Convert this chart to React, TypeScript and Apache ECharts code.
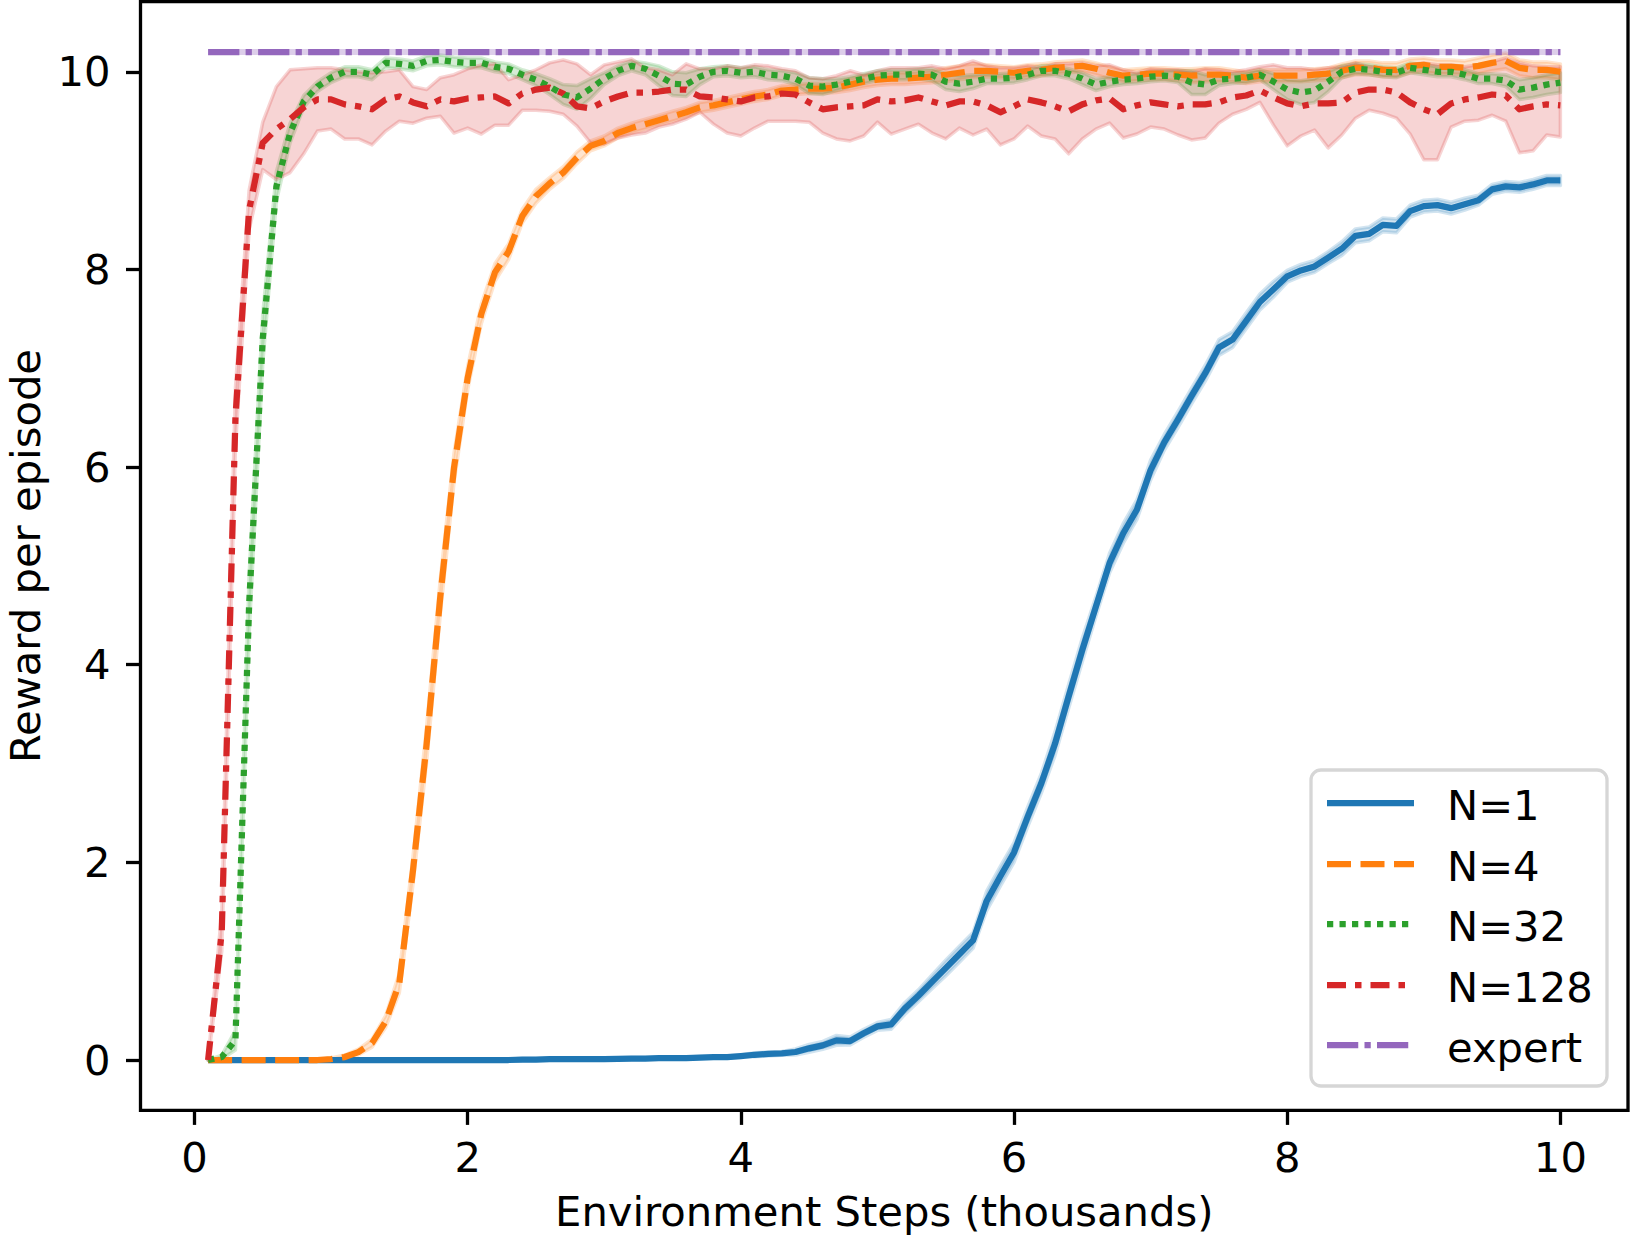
import React, { useEffect, useRef } from "react";
import * as echarts from "echarts";

// ---------------- data ----------------
const STEPS = [
  0.1, 0.2, 0.3, 0.4, 0.5, 0.6, 0.7, 0.8, 0.9, 1.0,
  1.1, 1.2, 1.3, 1.4, 1.5, 1.6, 1.7, 1.8, 1.9, 2.0,
  2.1, 2.2, 2.3, 2.4, 2.5, 2.6, 2.7, 2.8, 2.9, 3.0,
  3.1, 3.2, 3.3, 3.4, 3.5, 3.6, 3.7, 3.8, 3.9, 4.0,
  4.1, 4.2, 4.3, 4.4, 4.5, 4.6, 4.7, 4.8, 4.9, 5.0,
  5.1, 5.2, 5.3, 5.4, 5.5, 5.6, 5.7, 5.8, 5.9, 6.0,
  6.1, 6.2, 6.3, 6.4, 6.5, 6.6, 6.7, 6.8, 6.9, 7.0,
  7.1, 7.2, 7.3, 7.4, 7.5, 7.6, 7.7, 7.8, 7.9, 8.0,
  8.1, 8.2, 8.3, 8.4, 8.5, 8.6, 8.7, 8.8, 8.9, 9.0,
  9.1, 9.2, 9.3, 9.4, 9.5, 9.6, 9.7, 9.8, 9.9, 10.0,
];

const N1 = [
  0, 0, 0, 0, 0, 0, 0, 0, 0, 0,
  0, 0, 0, 0, 0, 0, 0, 0, 0, 0,
  0, 0, 0, 0.005, 0.005, 0.008, 0.008, 0.01, 0.01, 0.01,
  0.012, 0.015, 0.015, 0.018, 0.02, 0.02, 0.025, 0.028, 0.03, 0.04,
  0.053, 0.061, 0.067, 0.081, 0.118, 0.148, 0.199, 0.192, 0.27, 0.34,
  0.36, 0.52, 0.65, 0.79, 0.93, 1.07, 1.21, 1.61, 1.86, 2.1,
  2.46, 2.8, 3.2, 3.68, 4.15, 4.59, 5.03, 5.33, 5.57, 5.97,
  6.25, 6.48, 6.72, 6.95, 7.21, 7.29, 7.48, 7.67, 7.8, 7.93,
  7.99, 8.03, 8.12, 8.21, 8.34, 8.36, 8.45, 8.44, 8.59, 8.64,
  8.65, 8.62, 8.66, 8.7, 8.81, 8.84, 8.83, 8.86, 8.9, 8.9,
];
const N1_SPREAD = [
  0.005, 0.005, 0.005, 0.005, 0.005, 0.005, 0.005, 0.005, 0.005, 0.005,
  0.005, 0.005, 0.005, 0.005, 0.005, 0.005, 0.005, 0.005, 0.005, 0.005,
  0.01, 0.01, 0.01, 0.01, 0.01, 0.01, 0.01, 0.01, 0.01, 0.01,
  0.01, 0.01, 0.01, 0.01, 0.01, 0.01, 0.01, 0.01, 0.01, 0.01,
  0.02, 0.02, 0.02, 0.03, 0.04, 0.04, 0.05, 0.04, 0.04, 0.04,
  0.05, 0.06, 0.06, 0.07, 0.08, 0.08, 0.08, 0.1, 0.1, 0.1,
  0.1, 0.1, 0.12, 0.12, 0.12, 0.1, 0.1, 0.1, 0.1, 0.1,
  0.08, 0.08, 0.08, 0.08, 0.08, 0.08, 0.08, 0.08, 0.08, 0.06,
  0.06, 0.06, 0.06, 0.07, 0.07, 0.07, 0.07, 0.07, 0.06, 0.06,
  0.06, 0.06, 0.06, 0.05, 0.05, 0.05, 0.05, 0.05, 0.05, 0.05,
];

const N4 = [
  0, 0, 0, 0, 0, 0, 0, 0, 0, 0.01,
  0.03, 0.08, 0.17, 0.39, 0.78, 1.92, 3.2, 4.69, 5.99, 6.9,
  7.55, 7.97, 8.18, 8.54, 8.74, 8.87, 8.98, 9.13, 9.25, 9.3,
  9.38, 9.43, 9.47, 9.51, 9.55, 9.59, 9.64, 9.66, 9.69, 9.72,
  9.75, 9.77, 9.81, 9.82, 9.83, 9.83, 9.84, 9.87, 9.9, 9.92,
  9.93, 9.93, 9.94, 9.95, 9.97, 9.99, 10.01, 10.01, 10.0, 9.99,
  10.01, 10.02, 10.04, 10.05, 10.06, 10.03, 9.99, 9.96, 9.97, 9.98,
  9.98, 9.97, 9.96, 9.97, 9.97, 9.96, 9.94, 9.96, 9.96, 9.96,
  9.96, 9.97, 9.98, 10.01, 10.04, 10.04, 10.02, 10.02, 10.06, 10.07,
  10.05, 10.05, 10.04, 10.06, 10.09, 10.11, 10.04, 10.02, 10.02, 10.0,
];
const N4_SPREAD = [
  0.003, 0.003, 0.003, 0.003, 0.003, 0.003, 0.003, 0.003, 0.003, 0.01,
  0.02, 0.03, 0.04, 0.06, 0.1, 0.14, 0.18, 0.18, 0.15, 0.12,
  0.1, 0.09, 0.08, 0.07, 0.07, 0.06, 0.06, 0.06, 0.05, 0.05,
  0.05, 0.05, 0.05, 0.05, 0.05, 0.05, 0.05, 0.05, 0.05, 0.05,
  0.05, 0.05, 0.05, 0.05, 0.05, 0.05, 0.05, 0.06, 0.06, 0.06,
  0.06, 0.06, 0.06, 0.06, 0.07, 0.07, 0.07, 0.06, 0.06, 0.06,
  0.06, 0.06, 0.06, 0.06, 0.06, 0.06, 0.06, 0.06, 0.06, 0.06,
  0.06, 0.06, 0.07, 0.07, 0.07, 0.06, 0.06, 0.06, 0.06, 0.06,
  0.06, 0.06, 0.06, 0.07, 0.07, 0.07, 0.07, 0.07, 0.07, 0.07,
  0.07, 0.07, 0.07, 0.08, 0.08, 0.08, 0.08, 0.08, 0.08, 0.08,
];

const N32 = [
  0, 0.03, 0.2, 4.6, 7.3, 8.84, 9.38, 9.7, 9.85, 9.94,
  10.0, 10.0, 9.97, 10.09, 10.08, 10.06, 10.11, 10.12, 10.1, 10.09,
  10.09, 10.05, 10.03, 9.97, 9.92, 9.85, 9.77, 9.74, 9.83, 9.93,
  10.01, 10.06, 10.03, 9.96, 9.88, 9.87, 9.95, 10.0, 10.01, 9.99,
  10.0, 9.97, 9.96, 9.93, 9.86, 9.85, 9.87, 9.9, 9.93, 9.96,
  9.97, 9.97, 9.98, 9.97, 9.9, 9.88, 9.9, 9.93, 9.93, 9.94,
  9.97, 10.01, 10.01, 9.98, 9.93, 9.87, 9.9, 9.92, 9.93, 9.95,
  9.96, 9.95, 9.89, 9.87, 9.92, 9.93, 9.94, 9.97, 9.9, 9.82,
  9.79, 9.81, 9.9, 10.0, 10.03, 10.02, 10.0, 9.99, 10.04, 10.02,
  10.0, 10.0, 9.97, 9.93, 9.93, 9.91, 9.82, 9.84, 9.87, 9.89,
];
const N32_SPREAD = [
  0, 0.02, 0.1, 0.3, 0.25, 0.15, 0.1, 0.06, 0.05, 0.05,
  0.05, 0.05, 0.05, 0.05, 0.05, 0.05, 0.05, 0.05, 0.05, 0.05,
  0.05, 0.05, 0.05, 0.05, 0.06, 0.08, 0.1, 0.12, 0.1, 0.06,
  0.05, 0.05, 0.06, 0.1, 0.12, 0.12, 0.08, 0.05, 0.05, 0.05,
  0.05, 0.05, 0.05, 0.06, 0.08, 0.08, 0.06, 0.05, 0.05, 0.05,
  0.05, 0.05, 0.05, 0.06, 0.08, 0.08, 0.07, 0.05, 0.05, 0.05,
  0.05, 0.05, 0.05, 0.05, 0.06, 0.06, 0.05, 0.05, 0.05, 0.05,
  0.05, 0.06, 0.12, 0.1, 0.06, 0.05, 0.05, 0.05, 0.08, 0.1,
  0.12, 0.12, 0.1, 0.06, 0.05, 0.05, 0.05, 0.05, 0.05, 0.05,
  0.05, 0.05, 0.05, 0.05, 0.05, 0.06, 0.1, 0.1, 0.1, 0.1,
];

const N128 = [
  0, 1.3, 6.5, 8.6, 9.28, 9.42, 9.52, 9.64, 9.72, 9.72,
  9.67, 9.65, 9.62, 9.72, 9.75, 9.69, 9.65, 9.72, 9.7, 9.73,
  9.74, 9.75, 9.68, 9.78, 9.82, 9.84, 9.78, 9.65, 9.63, 9.7,
  9.75, 9.79, 9.79, 9.8, 9.82, 9.82, 9.75, 9.74, 9.72, 9.7,
  9.74, 9.75, 9.78, 9.77, 9.69, 9.62, 9.64, 9.65, 9.66, 9.72,
  9.7, 9.71, 9.74, 9.7, 9.66, 9.7, 9.7, 9.66, 9.59, 9.65,
  9.72, 9.69, 9.65, 9.6, 9.67, 9.71, 9.73, 9.62, 9.66, 9.69,
  9.67, 9.65, 9.67, 9.67, 9.69, 9.74, 9.76, 9.81, 9.74, 9.68,
  9.65, 9.68, 9.68, 9.69, 9.79, 9.82, 9.82, 9.79, 9.69, 9.62,
  9.57, 9.68, 9.72, 9.74, 9.77, 9.76, 9.62, 9.65, 9.67, 9.66,
];
const N128_LOW = [
  0, 1.1, 6.2, 8.4, 9.01, 8.91, 8.98, 9.17, 9.4, 9.42,
  9.32, 9.32, 9.26, 9.4, 9.5, 9.48, 9.53, 9.55, 9.38, 9.43,
  9.37, 9.46, 9.46, 9.61, 9.61, 9.6, 9.57, 9.45, 9.28, 9.27,
  9.33, 9.36, 9.38, 9.44, 9.47, 9.52, 9.59, 9.47, 9.38, 9.35,
  9.43, 9.5, 9.5, 9.5, 9.49, 9.38, 9.32, 9.3, 9.35, 9.49,
  9.37, 9.42, 9.47, 9.38, 9.32, 9.43, 9.36, 9.42, 9.26, 9.32,
  9.45, 9.35, 9.32, 9.17, 9.32, 9.42, 9.48, 9.33, 9.37, 9.44,
  9.42, 9.36, 9.31, 9.33, 9.48, 9.57, 9.62, 9.69, 9.46, 9.25,
  9.35, 9.41, 9.23, 9.36, 9.53, 9.61, 9.58, 9.53, 9.37, 9.11,
  9.11, 9.44, 9.5, 9.51, 9.56, 9.5, 9.18, 9.2, 9.36, 9.34,
];
const N128_HIGH = [
  0, 1.5, 6.8, 8.8, 9.49, 9.85, 10.02, 10.03, 10.04, 10.04,
  10.02, 10.0, 9.99, 10.0, 10.02, 9.85, 9.82, 9.94, 9.97, 10.03,
  10.07, 10.08, 9.92, 9.97, 10.02, 10.09, 10.12, 10.08, 9.97, 10.07,
  10.1, 10.13, 10.04, 10.02, 9.97, 10.08, 10.03, 10.03, 10.06, 10.04,
  10.07, 10.06, 10.03, 10.01, 9.94, 9.93, 9.96, 10.01, 9.97, 10.01,
  10.04, 10.04, 10.04, 10.06, 10.03, 10.06, 10.11, 10.06, 10.04, 10.04,
  10.06, 10.04, 10.08, 10.08, 10.09, 10.06, 10.07, 10.02, 9.99, 10.03,
  10.02, 10.02, 10.0, 10.03, 10.02, 10.0, 10.02, 10.05, 10.07, 10.04,
  10.04, 10.02, 10.04, 10.05, 10.09, 10.05, 10.04, 10.0, 10.07, 10.09,
  10.07, 10.07, 10.05, 10.07, 10.1, 10.14, 10.09, 10.06, 10.05, 10.05,
];

const EXPERT = 10.2;
const X_TICKS = [0, 2, 4, 6, 8, 10];
const Y_TICKS = [0, 2, 4, 6, 8, 10];
const LEGEND_LABELS = ["N=1", "N=4", "N=32", "N=128", "expert"];

// ---------------- style ----------------
const COLORS = ["#1f77b4", "#ff7f0e", "#2ca02c", "#d62728", "#9467bd"];
const DASHES: any[] = [
  "solid",
  [24, 9.5],
  [6.25, 6.25],
  [19, 9, 6.5, 9],
  [31.25, 6.25, 6.25, 6.25],
];
const FONT = "DejaVu Sans";
const LW = 6.25;

function rgba(hex: string, a: number) {
  const r = parseInt(hex.slice(1, 3), 16);
  const g = parseInt(hex.slice(3, 5), 16);
  const b = parseInt(hex.slice(5, 7), 16);
  return `rgba(${r},${g},${b},${a})`;
}

function pairs(vals: number[]) {
  return STEPS.map((x, i) => [x, vals[i]]);
}

// fill_between equivalent: polygon through the axis scales (api.coord)
function bandSeries(id: string, color: string, lo: number[], hi: number[]) {
  return {
    id,
    type: "custom",
    silent: true,
    data: STEPS.map((x, i) => [x, lo[i], hi[i]]),
    encode: { x: 0, y: [1, 2] },
    renderItem: (params: any, api: any) => {
      if (params.dataIndex !== 0) return null;
      const pts: number[][] = [];
      for (let i = 0; i < STEPS.length; i++) pts.push(api.coord([STEPS[i], hi[i]]));
      for (let i = STEPS.length - 1; i >= 0; i--) pts.push(api.coord([STEPS[i], lo[i]]));
      return {
        type: "polygon",
        shape: { points: pts },
        style: {
          fill: rgba(color, 0.2),
          stroke: rgba(color, 0.2),
          lineWidth: 3.5,
          lineJoin: "round",
        },
      };
    },
  };
}

function lineSeries(name: string, idx: number, data: number[][]) {
  return {
    name,
    type: "line",
    data,
    symbol: "none",
    silent: true,
    lineStyle: {
      color: COLORS[idx],
      width: LW,
      type: DASHES[idx],
      cap: "butt",
      join: "round",
    },
  };
}

function buildOption() {
  const means = [N1, N4, N32];
  const spreads = [N1_SPREAD, N4_SPREAD, N32_SPREAD];
  const series: any[] = [];
  for (let s = 0; s < 3; s++) {
    const lo = means[s].map((m, i) => m - spreads[s][i]);
    const hi = means[s].map((m, i) => m + spreads[s][i]);
    series.push(lineSeries(LEGEND_LABELS[s], s, pairs(means[s])));
    series.push(bandSeries("band" + s, COLORS[s], lo, hi));
  }
  series.push(lineSeries(LEGEND_LABELS[3], 3, pairs(N128)));
  series.push(bandSeries("band3", COLORS[3], N128_LOW, N128_HIGH));
  const expertData = [
    [STEPS[0], EXPERT],
    [STEPS[STEPS.length - 1], EXPERT],
  ];
  series.push({
    id: "expert-band",
    type: "line",
    data: expertData,
    symbol: "none",
    silent: true,
    lineStyle: { color: rgba(COLORS[4], 0.32), width: 6, cap: "butt" },
  });
  series.push(lineSeries(LEGEND_LABELS[4], 4, expertData));

  // legend drawn as graphics (matplotlib style)
  const lx = 1311, ly = 770, lw = 296, lh = 316;
  const rowY = [803, 864, 924, 985, 1045];
  const legendEls: any[] = [
    {
      type: "rect",
      shape: { x: lx, y: ly, width: lw, height: lh, r: 10 },
      style: { fill: "rgba(255,255,255,0.85)", stroke: "#d6d6d6", lineWidth: 3.3 },
      z: 100,
    },
  ];
  LEGEND_LABELS.forEach((label, i) => {
    const dash = DASHES[i];
    legendEls.push({
      type: "line",
      shape: { x1: 1327, y1: rowY[i], x2: 1414, y2: rowY[i] },
      style: {
        stroke: COLORS[i],
        lineWidth: LW,
        lineDash: Array.isArray(dash) ? dash : null,
        lineCap: "butt",
      },
      z: 101,
    });
    legendEls.push({
      type: "text",
      x: 1447,
      y: rowY[i] + 2,
      style: {
        text: label,
        fill: "#000",
        fontSize: 41.7,
        fontFamily: FONT,
        align: "left",
        verticalAlign: "middle",
      },
      z: 101,
    });
  });

  return {
    animation: false,
    backgroundColor: "#ffffff",
    textStyle: { fontFamily: FONT },
    grid: {
      left: 140.5,
      top: 1.6,
      width: 1487.5,
      height: 1108.8,
      show: true,
      borderColor: "#000",
      borderWidth: 3.3,
      backgroundColor: "transparent",
      containLabel: false,
      outerBoundsMode: "none",
    },
    xAxis: {
      type: "value",
      min: -0.395,
      max: 10.495,
      name: "Environment Steps (thousands)",
      nameLocation: "middle",
      nameGap: 80,
      nameTextStyle: { fontSize: 41.7, color: "#000", fontFamily: FONT },
      axisLine: { show: false, onZero: false },
      axisTick: {
        show: true,
        inside: false,
        length: 14.5,
        lineStyle: { color: "#000", width: 3.3 },
        customValues: X_TICKS,
      },
      axisLabel: {
        show: true,
        fontSize: 41.7,
        color: "#000",
        fontFamily: FONT,
        margin: 26,
        customValues: X_TICKS,
        formatter: (v: number) => String(v),
      },
      splitLine: { show: false },
    },
    yAxis: {
      type: "value",
      min: -0.51,
      max: 10.71,
      name: "Reward per episode",
      nameLocation: "middle",
      nameGap: 94,
      nameTextStyle: { fontSize: 41.7, color: "#000", fontFamily: FONT },
      axisLine: { show: false, onZero: false },
      axisTick: {
        show: true,
        inside: false,
        length: 14.5,
        lineStyle: { color: "#000", width: 3.3 },
        customValues: Y_TICKS,
      },
      axisLabel: {
        show: true,
        fontSize: 41.7,
        color: "#000",
        fontFamily: FONT,
        margin: 30,
        customValues: Y_TICKS,
        formatter: (v: number) => String(v),
      },
      splitLine: { show: false },
    },
    graphic: legendEls,
    series,
  };
}

export default function App() {
  const ref = useRef<HTMLDivElement>(null);
  useEffect(() => {
    if (!ref.current) return;
    const chart = echarts.init(ref.current, null, { renderer: "svg" });
    chart.setOption(buildOption() as any);
    return () => chart.dispose();
  }, []);
  return (
    <div
      ref={ref}
      style={{
        position: "fixed",
        left: 0,
        top: 0,
        width: 1630,
        height: 1237,
        background: "#fff",
      }}
    />
  );
}
